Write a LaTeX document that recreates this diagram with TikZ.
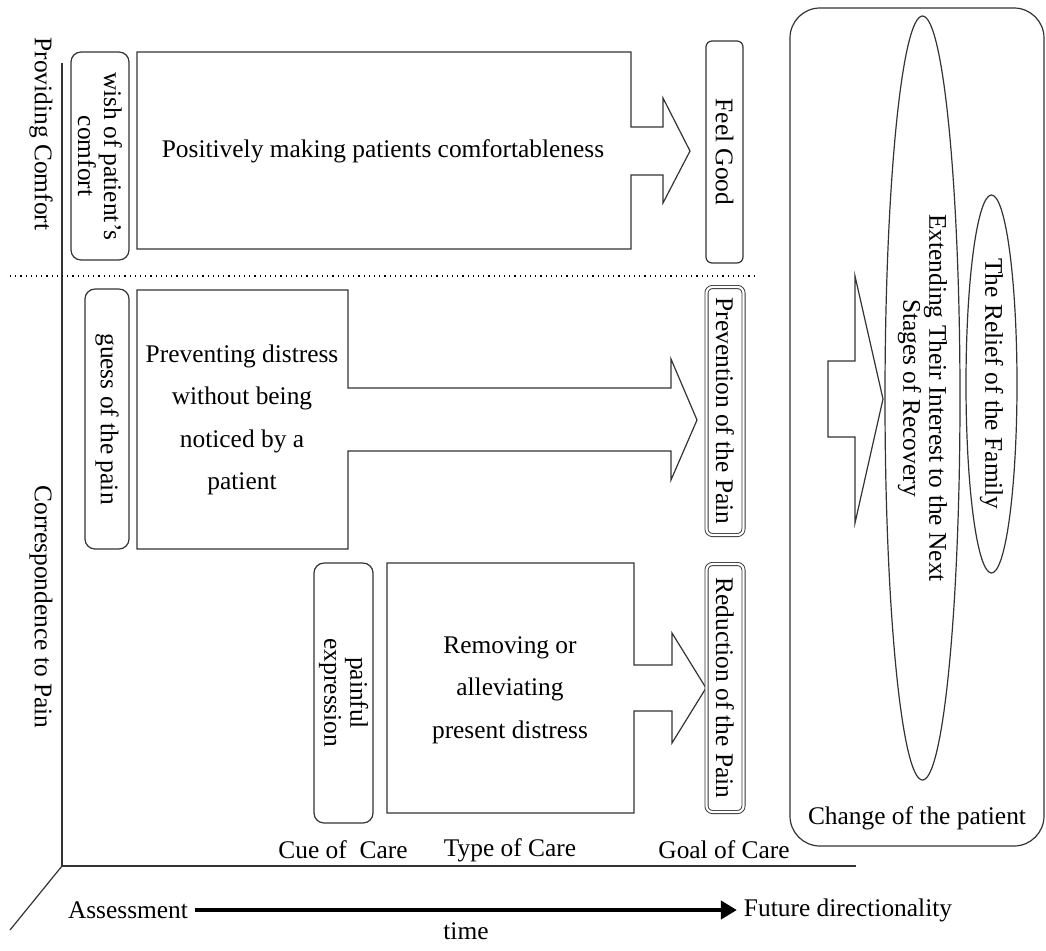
\documentclass[tikz,border=0pt]{standalone}
\usepackage{fontspec}
\setmainfont{Liberation Serif}
\usepackage{tikz}
\usetikzlibrary{arrows.meta, positioning, shapes.geometric}

\begin{document}
\begin{tikzpicture}[x=0.5pt, y=-0.5pt,
    font=\fontsize{12.7}{13}\selectfont,
    ln/.style={draw=black!80, line width=0.6pt},
    cue/.style={ln, rounded corners=5pt, rotate=-90, align=center, inner sep=0pt},
    goal/.style={ln, rounded corners=3pt, rotate=-90, inner sep=0pt, minimum height=18.5pt},
    paingoal/.style={goal, double, double distance=1.1pt, line width=0.45pt},
    caretxt/.style={align=center, font=\fontsize{12.7}{21.25}\selectfont},
    oval/.style={ln, ellipse, rotate=-90, align=center, inner sep=0pt},
    vlab/.style={rotate=-90},
    timearr/.style={line width=2.2pt, -{Triangle[length=8pt, width=9pt]}}]
  \useasboundingbox (0,0) rectangle (1046,950);

  % axes
  \coordinate (org) at (62,866);
  \coordinate (ytop) at (62,63);
  \coordinate (xend) at (856,866);
  \coordinate (zend) at (10,930);
  \draw[ln] (ytop) -- (org) -- (xend);
  \draw[ln] (org) -- (zend);
  \draw[dotted, line width=0.6pt] (10,276) -- (758,276);
  \node[vlab] (comf) at (41,134) {Providing Comfort};
  \node[vlab] (corr) at (41,607) {Correspondence to Pain};

  % cues
  \node[cue, minimum width=104pt, minimum height=29pt] (wish) at (100,156) {wish of patient's\\comfort};
  \node[cue, minimum width=130pt, minimum height=22pt] (guess) at (107,419) {guess of the pain};
  \node[cue, minimum width=130pt, minimum height=29.5pt] (expr) at (343.5,693) {painful\\expression};

  % types of care
  \draw[ln] (137,52) -| (631,127) -| (663,98) -- (690,151) -- (663,203) |- (631,175) |- (137,249) -- cycle;
  \node[caretxt] (posit) at (383,151) {Positively making patients comfortableness};
  \draw[ln] (137,290) -| (348,388) -| (671,359) -- (697,420) -- (671,480) |- (348,451) |- (137,549) -- cycle;
  \node[caretxt] (prev) at (242,420) {Preventing distress\\without being\\noticed by a\\patient};
  \draw[ln] (387,563) -| (634,665) -| (672,633) -- (706,688) -- (672,743) |- (634,711) |- (387,813) -- cycle;
  \node[caretxt] (remv) at (510,690) {Removing or\\alleviating\\present distress};

  % goals
  \node[goal, minimum width=111pt] (good) at (724.5,152) {Feel Good};
  \node[paingoal, minimum width=124pt] (prevg) at (725,411) {Prevention of the Pain};
  \node[paingoal, minimum width=124pt] (redg) at (725,688) {Reduction of the Pain};

  % change of the patient
  \node[ln, rounded corners=15pt, minimum width=127pt, minimum height=419pt, inner sep=0pt] (chg) at (917,427) {};
  \node (chgtxt) at (917,818) {Change of the patient};
  \draw[ln] (828,361) -| (855,276) -- (883,399) -- (855,523) |- (828,437) -- cycle;
  \node[oval, minimum width=382pt, minimum height=37.5pt] (ext) at (922.5,398) {Extending Their Interest to the Next\\Stages of Recovery};
  \node[oval, minimum width=189pt, minimum height=25.5pt] (fam) at (991.5,384) {The Relief of the Family};

  % bottom labels
  \node (cuec) at (343,850) {Cue of~ Care};
  \node (typec) at (510,850) {Type of Care};
  \node (goalc) at (724,850) {Goal of Care};
  \node (assess) at (128,910) {Assessment};
  \node (future) at (848,910) {Future directionality};
  \draw[timearr] (assess) -- node[below=4pt, inner sep=1pt] (time) {time} (future);
\end{tikzpicture}
\end{document}
